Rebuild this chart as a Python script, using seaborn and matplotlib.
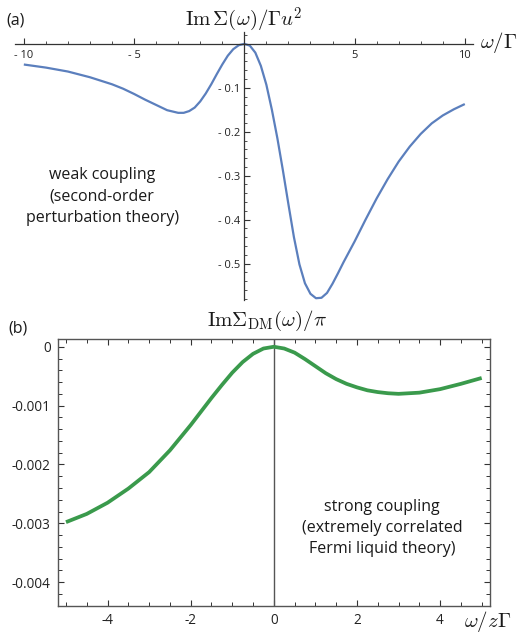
import numpy as np
import pandas as pd
import matplotlib
matplotlib.use("Agg")
import matplotlib.pyplot as plt
from matplotlib.ticker import MultipleLocator
import seaborn as sns

# ---- data panel (a) ----
omega_a = [-10, -9, -8, -7, -6, -5.5, -5, -4.5, -4, -3.5, -3, -2.75, -2.5, -2.25, -2,
           -1.75, -1.5, -1.25, -1, -0.75, -0.5, -0.25, 0, 0.25, 0.5, 0.75, 1, 1.25, 1.5,
           1.75, 2, 2.25, 2.5, 2.75, 3, 3.25, 3.5, 3.75, 4, 4.25, 4.5, 5, 5.5, 6, 6.5, 7,
           7.5, 8, 8.5, 9, 9.5, 10]
imsigma_a = [-0.047, -0.054, -0.063, -0.076, -0.092, -0.102, -0.114, -0.127, -0.139, -0.151,
             -0.157, -0.157, -0.153, -0.145, -0.131, -0.113, -0.092, -0.069, -0.047, -0.027,
             -0.012, -0.003, 0.0, -0.004, -0.020, -0.050, -0.093, -0.150, -0.215, -0.288,
             -0.365, -0.440, -0.502, -0.545, -0.569, -0.579, -0.578, -0.567, -0.546, -0.522,
             -0.497, -0.450, -0.400, -0.352, -0.308, -0.268, -0.234, -0.205, -0.181, -0.163,
             -0.149, -0.137]
xticks_a = [-10, -5, 5, 10]
xticklabels_a = ["- 10", "- 5", "5", "10"]
yticks_a = [-0.1, -0.2, -0.3, -0.4, -0.5]
yticklabels_a = ["- 0.1", "- 0.2", "- 0.3", "- 0.4", "- 0.5"]

# ---- data panel (b) ----
omega_b = [-5, -4.5, -4, -3.5, -3, -2.5, -2, -1.5, -1.25, -1, -0.75, -0.5, -0.25, 0, 0.25,
           0.5, 0.75, 1, 1.25, 1.5, 1.75, 2, 2.25, 2.5, 2.75, 3, 3.5, 4, 4.5, 5]
imsigma_b = [-0.00298, -0.00284, -0.00265, -0.00241, -0.00213, -0.00176, -0.00133, -0.00087,
             -0.00065, -0.00044, -0.00026, -0.00012, -0.00003, 0.0, -0.00003, -0.00010,
             -0.00021, -0.00033, -0.00045, -0.00055, -0.00063, -0.00069, -0.00074, -0.00077,
             -0.00079, -0.00080, -0.00078, -0.00072, -0.00063, -0.00053]
xticks_b = [-4, -2, 0, 2, 4]
xticklabels_b = ["-4", "-2", "0", "2", "4"]
yticks_b = [0, -0.001, -0.002, -0.003, -0.004]
yticklabels_b = ["0", "-0.001", "-0.002", "-0.003", "-0.004"]

df_a = pd.DataFrame({"omega": omega_a, "val": imsigma_a})
df_b = pd.DataFrame({"omega": omega_b, "val": imsigma_b})

sns.set_style("white")
plt.rcParams["font.family"] = ["Open Sans", "DejaVu Sans"]
plt.rcParams["mathtext.fontset"] = "cm"
plt.rcParams["text.color"] = "#1a1a1a"
plt.rcParams["lines.solid_joinstyle"] = "round"
plt.rcParams["lines.solid_capstyle"] = "butt"

fig = plt.figure(figsize=(5.21, 6.35), dpi=100)

# ---------------- panel (a) ----------------
axa = fig.add_axes([0.0288, 0.5276, 0.879, 0.4220])
sns.lineplot(data=df_a, x="omega", y="val", ax=axa, color="#5b7fbd", lw=1.6, sort=False)
axa.set_xlim(-10.4, 10.37)
axa.set_ylim(-0.583, 0.027)
for s in ["top", "right"]:
    axa.spines[s].set_visible(False)
axa.spines["bottom"].set_position(("data", 0))
axa.spines["left"].set_position(("data", 0))
for s in ["bottom", "left"]:
    axa.spines[s].set_color("#333333")
    axa.spines[s].set_linewidth(0.9)
axa.set_xticks(xticks_a)
axa.set_xticklabels(xticklabels_a)
axa.xaxis.set_minor_locator(MultipleLocator(1))
axa.set_yticks(yticks_a)
axa.set_yticklabels(yticklabels_a)
axa.yaxis.set_minor_locator(MultipleLocator(0.02))
axa.tick_params(axis="both", which="both", direction="in", colors="#333333",
                bottom=True, left=True, top=False, right=False,
                labelsize=8, labelcolor="#222222")
axa.tick_params(axis="both", which="major", length=4.5, width=0.8, pad=3)
axa.tick_params(axis="x", which="major", pad=4.5)
axa.tick_params(axis="both", which="minor", length=2.5, width=0.6)
axa.set_xlabel("")
axa.set_ylabel("")
fig.text(0.468, 0.968, r"$\mathrm{Im}\,\Sigma(\omega)/\Gamma u^2$", ha="center", va="center",
         fontsize=15)
fig.text(0.921, 0.933, r"$\omega/\Gamma$", ha="left", va="center", fontsize=15)
fig.text(0.012, 0.968, "(a)", ha="left", va="center", fontsize=11.5)
fig.text(0.196, 0.690, "weak coupling\n(second-order\nperturbation theory)", ha="center",
         va="center", fontsize=11.5, linespacing=1.45)

# ---------------- panel (b) ----------------
axb = fig.add_axes([0.1107, 0.0461, 0.8298, 0.4195])
axb.axvline(0, color="#555555", lw=1.0, zorder=1)
sns.lineplot(data=df_b, x="omega", y="val", ax=axb, color="#3a9a4c", lw=2.7, sort=False,
             zorder=3)
axb.set_xlim(-5.2, 5.2)
axb.set_ylim(-0.0044, 0.000126)
for s in axb.spines.values():
    s.set_visible(True)
    s.set_color("#555555")
    s.set_linewidth(1.0)
axb.set_xticks(xticks_b)
axb.set_xticklabels(xticklabels_b)
axb.xaxis.set_minor_locator(MultipleLocator(0.5))
axb.set_yticks(yticks_b)
axb.set_yticklabels(yticklabels_b)
axb.yaxis.set_minor_locator(MultipleLocator(0.0002))
axb.tick_params(axis="both", which="both", direction="in", top=True, right=True,
                bottom=True, left=True,
                colors="#333333", labelsize=9.8, labelcolor="#222222")
axb.tick_params(axis="both", which="major", length=4, width=0.8, pad=5)
axb.tick_params(axis="both", which="minor", length=3, width=0.7)
axb.set_xlabel("")
axb.set_ylabel("")
fig.text(0.513, 0.494, r"$\mathrm{Im}\Sigma_{\mathrm{DM}}(\omega)/\pi$", ha="center",
         va="center", fontsize=15)
fig.text(0.89, 0.022, r"$\omega/z\Gamma$", ha="left", va="center", fontsize=15)
fig.text(0.016, 0.482, "(b)", ha="left", va="center", fontsize=11.5)
fig.text(0.733, 0.1685, "strong coupling\n(extremely correlated\nFermi liquid theory)",
         ha="center", va="center", fontsize=11.5, linespacing=1.45)

fig.savefig("out.png", dpi=100)
